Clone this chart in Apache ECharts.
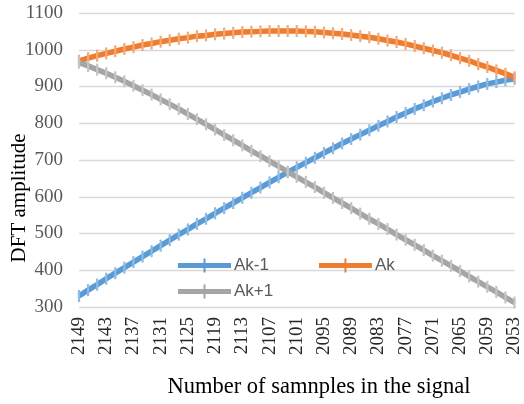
<!DOCTYPE html>
<html><head><meta charset="utf-8">
<script src="https://cdn.jsdelivr.net/npm/echarts@6/dist/echarts.min.js"></script>
<style>html,body{margin:0;padding:0;background:#fff}#c{width:524px;height:404px}</style>
</head><body><div id="c"></div>
<script>
const categories = ['2149','2147','2145','2143','2141','2139','2137','2135','2133','2131','2129','2127','2125','2123','2121','2119','2117','2115','2113','2111','2109','2107','2105','2103','2101','2099','2097','2095','2093','2091','2089','2087','2085','2083','2081','2079','2077','2075','2073','2071','2069','2067','2065','2063','2061','2059','2057','2055','2053'];
const akMinus1 = [330,346,361,377,392,407,422,437,452,467,482,497,511,526,540,555,569,583,597,611,625,639,653,667,680,693,706,719,732,745,757,769,781,793,805,817,828,839,849,859,868,877,885,893,900,907,912,917,921];
const ak = [970,977,984,990,996,1002,1007,1013,1017,1022,1026,1030,1033,1037,1039,1042,1044,1046,1048,1049,1050,1051,1051,1051,1051,1050,1049,1047,1045,1043,1040,1037,1034,1030,1025,1021,1016,1010,1004,998,992,985,977,970,961,953,944,935,925];
const akPlus1 = [965,956,946,936,925,914,902,890,878,865,852,839,825,811,797,783,768,754,740,725,711,697,683,668,654,640,626,611,597,583,569,554,540,526,512,497,483,469,455,440,426,412,398,383,369,355,341,326,312];
const seriesNames = ['Ak-1','Ak','Ak+1'];
const lineColors = ['#5B9BD5','#ED7D31','#A5A5A5'];
const markColors = ['#8DBBE5','#F5A872','#C4C4C4'];
const yTicks = {min:300, max:1100, step:100};

const chart = echarts.init(document.getElementById('c'), null, {renderer:'canvas'});
const plus = 'path://M5,0H7V13H5Z';
const legendIcon = 'path://M0,4.5H53V9.5H0Z M25.5,0H27.5V14H25.5Z';
const mk = (name, data, i) => ({
  name, type:'line', data,
  symbol: plus, symbolSize:[2.2,12], showSymbol:true, showAllSymbol:true,
  lineStyle:{color:lineColors[i], width:5.5},
  itemStyle:{color:markColors[i], borderWidth:0},
  emphasis:{disabled:true}, animation:false
});
const legItem = (i) => ({name:seriesNames[i], icon:legendIcon, itemStyle:{color:lineColors[i]}});
const legText = {fontFamily:'Liberation Sans', fontSize:17, color:'#595959', padding:[0,0,0,-2]};
chart.setOption({
  animation:false,
  grid:{left:79, right:1, top:13, bottom:97, containLabel:false},
  legend:[
    {data:[legItem(0), legItem(1)], left:178, top:257, padding:0, itemWidth:53, itemHeight:14, itemGap:50, textStyle:legText},
    {data:[legItem(2)], left:178, top:283, padding:0, itemWidth:53, itemHeight:14, textStyle:legText}
  ],
  xAxis:{type:'category', data:categories, boundaryGap:false,
    axisLine:{show:false}, axisTick:{show:false}, splitLine:{show:false},
    axisLabel:{rotate:90, interval:2, margin:10, fontFamily:'Liberation Serif', fontSize:19, color:'#262626'}},
  yAxis:{type:'value', min:yTicks.min, max:yTicks.max, interval:yTicks.step,
    axisLine:{show:false}, axisTick:{show:false},
    splitLine:{lineStyle:{color:'#D9D9D9', width:1.3}},
    axisLabel:{margin:16, fontFamily:'Liberation Serif', fontSize:19, color:'#595959', formatter:(v)=>String(v)}},
  series:[mk(seriesNames[0], akMinus1, 0), mk(seriesNames[1], ak, 1), mk(seriesNames[2], akPlus1, 2)],
  graphic:[
    {type:'text', x:319, y:387, style:{text:'Number of samnples in the signal', font:'22.5px "Liberation Serif"', fill:'#000', align:'center', verticalAlign:'middle'}},
    {type:'text', x:19, y:198, rotation:Math.PI/2, style:{text:'DFT amplitude', font:'21px "Liberation Serif"', fill:'#000', align:'center', verticalAlign:'middle'}}
  ]
});
</script></body></html>
